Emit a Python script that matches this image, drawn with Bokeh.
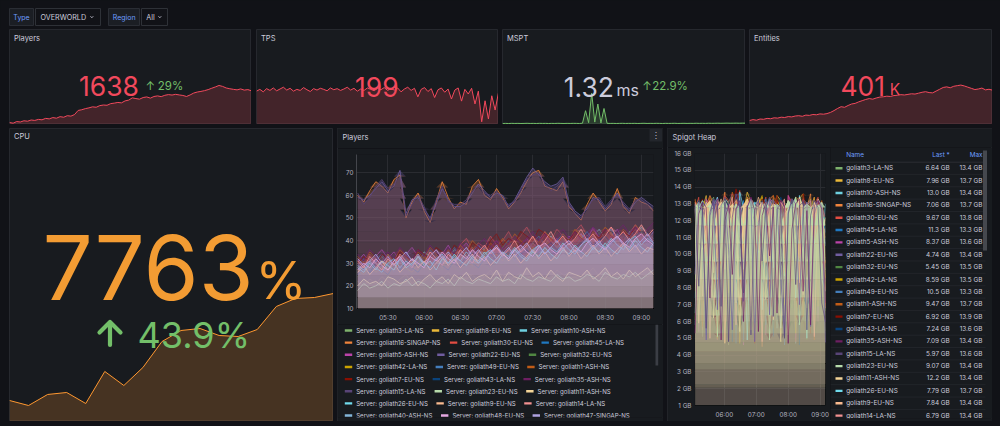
import numpy as np
import pandas as pd
from bokeh.plotting import figure
from bokeh.models import Range1d, FixedTicker, DatetimeTickFormatter, Spacer, GlobalInlineStyleSheet
from bokeh.layouts import row, column
from bokeh.core.properties import value
from bokeh.embed import file_html
from bokeh.resources import INLINE

# ---------------- data ----------------
var_type = "OVERWORLD"
var_region = "All"

stat_players = [1270,1262,1281,1276,1290,1285,1299,1294,1306,1301,1318,1312,1327,1320,1338,1331,1349,1344,
                1362,1410,1418,1431,1440,1452,1447,1466,1473,1470,1489,1495,1503,1498,1521,1530,1556,1548,
                1541,1560,1567,1553,1572,1579,1570,1586,1594,1589,1597,1590,1584,1572,1590,1612,1624,1631,
                1640,1652,1668,1683,1700,1689,1671,1662,1655,1649,1660,1646,1652,1638]
stat_tps = [19.88,19.93,19.86,19.95,19.90,19.97,19.89,19.94,19.99,19.91,19.96,19.88,19.93,19.90,19.98,19.92,
            19.87,19.95,19.91,19.96,19.93,19.89,19.97,19.92,19.95,19.90,19.94,19.99,19.91,19.96,19.88,19.94,
            19.90,19.97,19.93,19.89,19.96,19.92,19.98,19.90,19.95,19.91,19.97,19.86,19.94,19.99,19.90,19.96,
            19.72,19.93,19.98,19.87,19.95,19.70,19.92,19.97,19.85,19.94,19.66,19.91,19.97,19.60,19.93,19.80,
            19.96,19.52,19.88,19.02,19.61,19.10,19.75,19.35,19.84]
stat_mspt = [1.21,1.24,1.19,1.26,1.22,1.25,1.20,1.23,1.27,1.22,1.24,1.21,1.26,1.23,1.25,1.20,1.24,1.22,1.27,
             1.23,1.21,1.25,1.22,1.26,1.24,1.21,1.3,5.8,1.5,12.1,1.7,8.2,1.4,6.6,1.26,1.23,1.25,1.21,1.24,
             1.27,1.22,1.25,1.23,1.26,1.21,1.24,1.28,1.22,1.25,1.23,1.27,1.24,1.21,1.26,1.23,1.25,1.28,1.22,
             1.24,1.27,1.23,1.26,1.24,1.29,1.25,1.27,1.24,1.30,1.26,1.28,1.31,1.27,1.30,1.33,1.29,1.31,1.34,
             1.30,1.33,1.32]
stat_entities_k = [300,303,301,305,304,307,306,309,308,311,310,313,312,315,316,314,318,317,320,319,322,321,
                   323,327,333,340,346,344,350,355,357,362,366,370,373,371,375,378,379,381,380,383,384,386,
                   385,387,389,388,391,394,396,393,392,398,404,410,412,409,414,416,418,415,411,407,403,405,
                   408,402,404,401]
stat_cpu = [5395,5284,5528,5572,5328,6037,5727,6125,6700,6944,6988,6833,6811,6966,7475,7652,7674,7763]

stat_texts = {"players": ("1638", "29%"), "tps": ("199", None), "mspt": ("1.32", "22.9%"),
              "entities": ("401", None), "cpu": ("7763", "43.9%")}

palette = ["#7EB26D","#EAB839","#6ED0E0","#EF843C","#E24D42","#1F78C1","#BA43A9","#705DA0","#508642",
           "#CCA300","#447EBC","#C15C17","#890F02","#0A437C","#6D1F62","#584477","#B7DBAB","#F4D598",
           "#70DBED","#F9BA8F","#F29191","#82B5D8","#E5A8E2","#AEA2E0"]

players_names = ["goliath3-LA-NS","goliath8-EU-NS","goliath10-ASH-NS","goliath16-SINGAP-NS","goliath30-EU-NS",
                 "goliath45-LA-NS","goliath5-ASH-NS","goliath22-EU-NS","goliath32-EU-NS","goliath42-LA-NS",
                 "goliath49-EU-NS","goliath1-ASH-NS","goliath7-EU-NS","goliath43-LA-NS","goliath35-ASH-NS",
                 "goliath15-LA-NS","goliath23-EU-NS","goliath11-ASH-NS","goliath26-EU-NS","goliath9-EU-NS",
                 "goliath14-LA-NS","goliath40-ASH-NS","goliath48-EU-NS","goliath47-SINGAP-NS"]

players_series = [
 [28,31,27,30,33,29,31,28,32,30,34,31,29,33,31,35,32,30,34,37,33,36,34,38,35,33,37,36,39,37,35,38,40,37,39,41,38,36,40,42,39,37,41,38,40,43,39,41,38,40],
 [22,20,23,21,24,22,20,23,25,21,23,22,24,21,23,26,22,24,23,25,22,24,27,23,25,22,24,26,23,25,22,24,23,27,25,23,24,22,25,28,24,23,26,24,25,23,27,25,24,26],
 [30,27,32,29,31,34,30,33,29,32,30,35,33,31,34,32,36,34,31,35,33,37,35,32,36,38,34,37,35,39,36,38,42,39,41,37,40,43,39,42,45,41,38,43,40,44,42,46,43,41],
 [60,57,62,66,64,61,67,69,50,57,61,53,48,57,66,59,54,57,56,64,67,60,58,63,59,54,57,61,66,70,71,64,63,62,66,55,52,49,56,61,57,53,56,63,55,52,59,57,56,53],
 [32,29,34,31,28,33,30,32,35,31,33,30,34,36,32,35,33,38,41,36,39,37,42,38,40,44,39,42,46,41,38,43,40,45,42,39,44,47,42,45,41,43,46,40,44,42,45,41,43,40],
 [26,29,27,31,28,30,26,29,32,28,31,29,27,30,33,29,32,30,28,32,35,31,34,32,36,33,31,35,38,34,37,35,33,37,40,36,39,37,35,38,41,37,40,38,42,39,36,40,43,39],
 [31,34,30,33,36,32,35,31,34,37,33,30,35,32,34,38,33,36,39,35,38,34,37,40,36,39,35,38,41,37,40,44,38,41,37,42,39,43,40,46,41,38,42,45,40,43,47,42,39,44],
 [59,58,60,63,66,62,64,71,52,58,59,54,50,56,63,58,55,55,57,61,65,62,59,61,60,55,58,63,68,72,69,66,64,65,68,57,53,51,54,59,58,54,57,61,56,53,57,59,57,55],
 [24,27,25,28,26,24,29,26,28,25,27,30,26,29,27,31,28,26,30,28,32,29,27,31,29,33,30,28,32,35,31,33,30,34,32,36,33,31,35,33,37,34,32,36,34,38,35,33,37,35],
 [27,25,29,26,28,31,27,30,28,26,30,33,29,31,28,32,30,34,31,29,33,36,32,34,31,35,33,30,34,37,33,36,34,32,36,39,35,37,34,38,36,33,37,40,36,38,35,39,37,34],
 [29,32,28,31,34,30,27,32,35,31,29,33,36,32,30,34,37,33,31,35,38,34,36,33,37,40,35,38,36,39,42,38,36,40,43,39,37,41,44,40,38,42,45,41,39,43,46,42,40,44],
 [33,30,35,32,29,34,31,36,33,30,35,32,37,34,31,36,33,38,35,40,37,34,39,36,41,38,43,40,37,42,39,44,41,38,43,40,45,42,39,44,41,46,43,40,45,42,47,44,41,43],
 [30,33,31,29,34,32,30,35,33,31,36,34,32,37,35,33,38,36,34,39,37,35,40,43,38,41,39,44,42,40,45,43,41,38,42,40,44,41,39,43,41,45,42,40,44,42,46,43,41,39],
 [25,28,26,30,27,25,29,27,31,28,26,30,28,32,29,27,31,29,33,30,28,32,34,31,33,35,32,34,36,33,35,37,39,36,38,40,37,39,41,38,40,42,39,41,43,40,42,44,41,43],
 [34,31,36,33,30,35,32,37,34,31,36,33,38,35,32,37,34,39,36,33,38,41,37,40,36,39,42,38,41,44,40,43,39,42,45,41,44,40,43,46,42,45,41,44,47,43,46,42,45,48],
 [61,56,59,64,67,63,65,68,51,56,60,55,49,58,64,57,56,56,58,62,64,61,60,62,58,56,57,62,67,69,70,65,62,64,67,56,52,50,55,58,59,55,58,60,57,54,58,58,56,54],
 [18,21,19,20,22,19,21,20,23,20,22,21,19,22,21,23,20,24,22,21,23,22,21,24,22,23,21,25,23,22,24,23,22,25,23,24,22,23,25,24,22,26,24,23,25,24,26,23,25,27],
 [20,23,21,22,20,24,23,21,22,24,20,23,25,22,24,21,25,23,26,22,24,25,23,27,22,26,24,23,28,24,26,23,27,24,22,26,25,24,27,23,25,28,24,26,23,27,24,26,28,25],
 [28,26,30,27,31,29,27,32,28,30,33,29,31,27,32,30,34,31,29,33,31,35,32,30,34,32,36,33,31,35,33,37,34,32,36,34,38,35,33,37,35,39,36,34,38,36,40,37,35,39],
 [26,29,25,28,31,27,30,26,29,32,28,31,27,30,33,29,32,28,31,34,30,33,29,32,35,31,34,30,33,36,32,35,31,34,37,33,36,32,35,38,34,37,33,36,39,35,38,34,37,36],
 [31,28,33,30,27,32,29,34,31,28,33,30,35,32,29,34,31,36,33,30,35,38,34,37,33,36,40,35,38,42,37,40,44,39,42,38,41,45,40,43,39,42,46,41,44,40,43,47,42,45],
 [29,27,31,28,26,30,32,28,31,29,33,30,28,32,34,30,33,31,35,32,30,34,36,32,35,33,37,34,32,36,38,34,37,35,39,36,34,38,40,36,39,37,41,38,36,40,42,38,41,39],
 [27,30,28,32,29,27,31,33,29,32,30,28,33,31,35,32,30,34,32,36,33,31,35,37,34,32,36,38,35,33,37,39,36,34,38,40,37,35,39,41,38,36,40,42,39,37,41,43,40,38],
 [32,29,31,34,30,33,29,32,35,31,34,30,33,36,32,35,31,34,37,33,36,32,35,38,34,37,33,36,39,35,38,34,37,40,36,39,35,38,41,37,40,36,39,42,38,41,37,40,43,39],
]

heap_names = players_names[:21]
heap_series = [
 [12.9,13.2,5.1,9.8,13.1,13.4,7.2,12.8,13.3,4.6,11.9,13.2,13.0,6.3,12.7,13.3,8.9,13.1,5.4,12.6,13.3,13.1,7.7,12.9,13.2,4.9,10.8,13.2,12.8,6.1,13.0,13.3,9.2,12.7,13.1,6.64],
 [13.1,6.4,12.7,13.5,8.1,13.2,12.9,5.3,13.4,13.0,9.6,13.3,4.8,12.5,13.7,13.1,6.9,13.0,13.4,10.2,5.7,12.8,13.5,13.2,7.4,13.1,12.7,5.9,13.3,13.6,8.8,12.9,13.2,6.2,12.8,7.96],
 [5.8,12.6,13.2,7.9,13.0,12.8,4.9,11.7,13.3,13.1,6.6,12.9,13.4,9.1,12.7,5.2,13.0,13.2,7.0,12.8,13.3,11.4,5.6,13.1,12.9,8.3,13.2,4.7,12.6,13.3,13.0,6.8,12.9,13.1,9.9,13.0],
 [13.3,9.4,5.5,12.9,13.5,13.0,7.8,12.6,13.7,5.0,10.7,13.2,12.8,6.1,13.4,13.1,8.6,12.7,4.5,12.4,13.3,13.5,7.1,12.9,13.0,5.4,11.8,13.4,13.2,6.7,12.8,13.6,9.3,12.5,13.1,7.06],
 [12.7,13.4,6.2,12.9,13.1,8.5,4.9,12.8,13.5,13.2,7.3,12.6,13.8,5.6,12.1,13.3,13.0,6.9,12.8,13.4,9.7,5.1,13.2,12.9,7.6,13.5,13.1,4.8,11.5,13.3,12.7,6.4,13.0,13.4,8.2,9.67],
 [7.4,12.8,13.1,5.9,12.5,13.3,10.1,12.9,6.8,13.0,12.7,4.7,12.2,13.2,8.4,12.9,13.1,6.0,12.6,13.3,11.0,5.3,12.8,13.0,7.9,12.7,13.2,5.6,12.4,13.1,9.5,12.9,13.3,6.5,12.6,11.3],
 [13.0,5.4,11.6,13.3,12.9,7.1,13.4,12.7,5.8,13.1,13.6,8.9,12.5,4.6,12.8,13.2,7.5,13.0,12.6,5.2,13.3,13.1,9.8,12.7,6.3,13.5,12.9,5.0,12.3,13.2,7.8,12.8,13.4,6.0,12.9,8.37],
 [8.8,13.1,12.6,4.9,12.3,13.2,6.7,12.9,13.4,10.3,5.5,12.7,13.0,7.2,12.8,13.3,4.8,11.9,13.1,12.6,6.4,13.2,12.9,8.7,5.1,12.5,13.3,13.0,7.0,12.8,13.1,5.7,12.4,13.2,12.9,4.74],
 [12.5,13.0,7.6,12.8,5.2,12.1,13.3,12.9,6.5,13.1,13.5,9.0,12.6,4.8,12.9,13.2,7.9,12.7,13.0,5.9,12.4,13.3,10.6,5.3,12.8,13.1,6.8,13.4,12.6,8.1,4.9,12.9,13.2,12.7,7.3,5.45],
 [6.1,12.7,13.2,13.0,8.3,12.6,5.0,12.9,13.4,7.7,12.8,13.1,4.7,11.4,13.3,12.9,6.2,13.0,13.5,9.4,12.6,5.6,12.9,13.2,7.0,12.7,13.3,5.3,12.2,13.1,8.6,12.8,13.4,6.9,12.5,8.59],
 [12.8,7.0,12.4,13.1,5.5,12.7,13.3,9.2,12.9,6.1,12.5,13.0,12.8,4.9,12.2,13.2,8.0,12.6,13.1,5.8,12.9,13.3,7.4,12.7,4.6,11.8,13.0,12.8,6.6,13.2,12.5,9.7,5.2,12.9,13.1,10.5],
 [13.2,12.7,5.7,12.5,13.4,7.9,12.8,13.1,4.8,12.0,13.7,13.0,6.6,12.9,13.3,9.1,5.4,12.6,13.2,12.8,7.2,13.5,12.9,5.1,12.3,13.1,8.4,12.7,13.4,6.3,12.8,13.0,4.9,11.6,13.2,9.47],
 [7.8,12.9,13.3,5.6,12.6,13.1,12.8,8.7,13.4,5.0,12.4,13.9,12.7,6.9,13.2,12.9,4.7,11.9,13.3,13.0,7.5,12.8,13.5,5.9,12.5,13.2,9.3,12.9,6.4,13.6,12.7,5.3,12.2,13.1,12.8,6.92],
 [12.6,13.2,9.5,5.2,12.8,13.0,6.8,12.5,13.3,12.9,4.8,12.1,13.6,7.6,12.7,13.1,5.9,12.9,13.2,8.5,12.6,5.1,12.3,13.4,12.8,6.7,13.0,13.3,4.6,11.7,12.9,13.2,7.9,12.6,13.0,7.24],
 [5.3,12.4,13.1,12.8,7.4,12.9,13.3,4.9,12.0,13.0,8.8,12.7,13.2,6.0,12.8,13.4,12.6,5.4,12.3,13.1,9.9,12.8,6.5,13.2,12.9,4.7,11.5,13.0,13.3,7.8,12.6,5.8,12.9,13.2,12.7,7.09],
 [13.0,8.1,12.7,5.6,12.5,13.3,12.9,6.9,13.1,4.8,12.2,13.6,12.8,7.7,12.9,5.2,12.6,13.2,9.6,12.8,13.4,6.3,12.7,13.0,5.0,12.4,13.3,8.2,12.9,13.1,5.5,12.3,13.2,12.8,7.1,5.97],
 [12.8,13.1,12.6,9.4,13.0,12.7,5.1,12.9,13.2,12.5,11.2,13.0,12.8,6.4,12.6,13.3,12.9,10.1,12.7,13.1,4.9,12.8,13.0,12.6,8.7,13.2,12.9,13.4,5.8,12.7,13.0,12.8,10.6,12.9,13.1,9.07],
 [13.0,12.7,10.3,12.9,13.2,6.2,12.6,13.1,12.8,9.8,13.0,12.5,5.4,12.9,13.3,12.7,11.6,12.8,13.1,7.3,12.6,13.0,12.9,4.8,12.4,13.2,12.7,10.9,13.4,12.8,6.8,12.6,13.1,12.9,11.1,12.2],
 [6.5,12.8,13.2,12.6,8.0,12.9,13.4,5.3,12.3,13.0,12.7,7.1,13.7,12.8,4.9,11.8,13.1,12.9,6.7,12.5,13.3,9.2,12.8,5.6,12.6,13.2,12.9,7.4,13.5,12.7,5.0,12.1,13.0,12.8,8.5,7.79],
 [12.7,5.9,12.4,13.1,12.8,8.9,12.6,13.3,4.7,12.0,12.9,13.2,7.0,12.7,13.0,5.5,12.5,13.4,12.8,9.5,12.9,6.1,12.6,13.1,12.7,5.2,12.2,13.2,8.3,12.8,13.0,6.6,12.5,13.3,12.9,7.84],
 [13.1,12.6,7.5,12.9,5.0,12.3,13.2,12.8,9.1,12.7,13.4,5.8,12.5,13.0,12.9,6.9,12.6,13.1,4.8,11.9,13.2,12.8,8.0,12.9,13.3,5.4,12.4,13.0,12.7,7.6,12.9,13.2,5.1,12.6,13.0,6.79],
]
heap_pale = [17, 16]      # pale series whose heavy fill dominates the heap panel (drawn late)
heap_dark_top = [7, 14, 15]  # dark purple series whose lines stay visible on top

DAY = "2024-05-01"
players_times = pd.date_range(f"{DAY} 05:05", periods=50, freq="5min")
heap_times = pd.date_range(f"{DAY} 05:05", periods=36, freq="7min")
time_start, time_end = f"{DAY} 05:04", f"{DAY} 09:10"
players_xticks = ["05:30", "06:00", "06:30", "07:00", "07:30", "08:00", "08:30", "09:00"]
players_yticks = [10, 20, 30, 40, 50, 60, 70]
heap_xticks = ["06:00", "07:00", "08:00", "09:00"]
heap_yticks = list(range(1, 17))

# ---------------- style ----------------
FONT = "Inter"
BG = "#111217"; PANEL = "#181b1f"; BORDER = "#26282e"; TEXT = "#ccccdc"; TICK = "#b5b5c0"; GRID = "#2a2c31"
RED = "#f2495c"; GREEN = "#73bf69"; ORANGE = "#ff9830"; CPU_TXT = "#f39c33"; BLUE = "#6e9fff"
PLEG_FS = 6.1
HLEG_FS = 6.4
COMMON = dict(output_backend="svg", toolbar_location=None, frame_align=False)

def ms(t):
    return (pd.Timestamp(t) - pd.Timestamp("1970-01-01")) // pd.Timedelta("1ms")

T0 = pd.Timestamp(time_start).to_pydatetime()
T1 = pd.Timestamp(time_end).to_pydatetime()

CW = {"a": .55, "b": .59, "c": .55, "d": .59, "e": .56, "g": .59, "h": .57, "i": .24, "j": .24, "k": .52,
      "l": .24, "n": .57, "o": .57, "p": .59, "r": .36, "s": .52, "t": .35, "u": .57, "v": .53, "w": .77,
      "x": .52, "y": .53, "z": .51, "A": .69, "E": .6, "G": .73, "H": .75, "I": .27, "L": .51, "N": .75,
      "P": .63, "S": .64, "U": .73, ":": .26, " ": .28, "-": .42, "1": .45}

def tw(s, fs):
    return sum(CW.get(c, 0.62) for c in s) * fs

def ptext(p, x, y, s, size, color=TEXT, align="left", baseline="middle", rng=None, font=FONT):
    kw = dict(x_range_name=rng, y_range_name=rng) if rng else {}
    p.text(x=[x], y=[y], text=[s], text_font=value(font), text_font_size=value(f"{size}px"),
           text_color=color, text_align=align, text_baseline=baseline, **kw)

def pix_fig(w, h, bg=PANEL, mb=0):
    p = figure(width=w, height=h, x_range=Range1d(0, w), y_range=Range1d(h - mb, 0),
               x_axis_type=None, y_axis_type=None, min_border=0, min_border_left=0, min_border_right=0,
               min_border_top=0, min_border_bottom=mb, **COMMON)
    p.background_fill_color = bg; p.border_fill_color = bg; p.outline_line_color = None
    return p

def stat_fig(w, h, vals, lo, hi, color):
    n = len(vals)
    p = figure(width=w, height=h, x_range=Range1d(0, n - 1), y_range=Range1d(lo, hi),
               x_axis_type=None, y_axis_type=None, min_border=0, **COMMON)
    p.background_fill_color = PANEL; p.border_fill_color = PANEL; p.outline_line_color = BORDER
    p.extra_x_ranges = {"px": Range1d(0, w)}
    p.extra_y_ranges = {"px": Range1d(h, 0)}
    x = list(range(n))
    p.varea(x=x, y1=lo, y2=vals, fill_color=color, fill_alpha=0.2)
    p.line(x, vals, line_color=color, line_width=1)
    return p

def grad_fill(p, x, y, color, lo, hi, n, a_bot, a_top, gamma=1.0):
    y = np.asarray(y, float)
    edges = np.linspace(lo, hi, n + 1)
    for i in range(n):
        a, b = edges[i], edges[i + 1]
        if y.max() <= a:
            break
        f = (i + 0.5) / n
        p.varea(x=x, y1=np.full(len(y), a), y2=np.clip(y, a, b), fill_color=color,
                fill_alpha=min(1.0, a_bot + (a_top - a_bot) * f ** gamma))

def style_chart(p, xticks, yticks):
    for ax in p.axis:
        ax.major_label_text_font = FONT
        ax.major_label_text_font_size = "6.3px"
        ax.major_label_text_color = TICK
        ax.major_tick_line_color = None
        ax.minor_tick_line_color = None
        ax.major_tick_in = 0; ax.major_tick_out = 0
        ax.minor_tick_in = 0; ax.minor_tick_out = 0
        ax.axis_line_color = None
    xt = FixedTicker(ticks=[ms(f"{DAY} {t}") for t in xticks])
    p.xaxis.ticker = xt
    p.xgrid.ticker = xt
    p.xaxis.formatter = DatetimeTickFormatter(minutes="%H:%M", hourmin="%H:%M", hours="%H:%M",
                                              minsec="%H:%M", days="%H:%M")
    yt = FixedTicker(ticks=yticks)
    p.yaxis.ticker = yt
    p.ygrid.ticker = yt
    p.xaxis.major_label_standoff = 5
    p.yaxis.major_label_standoff = 3
    p.grid.grid_line_color = GRID
    p.grid.grid_line_width = 1
    p.background_fill_color = PANEL; p.border_fill_color = PANEL; p.outline_line_color = None

# ---------------- top bar ----------------
tb = pix_fig(1000, 28, bg=BG)
tb.quad(left=[9, 108], right=[33, 139], top=[8, 8], bottom=[25, 25], fill_color="#1b1e24", line_color="#2a2d34")
tb.quad(left=[35, 141], right=[100, 167], top=[8, 8], bottom=[25, 25], fill_color=BG, line_color="#2e3137")
ptext(tb, 21, 16.5, "Type", 7, BLUE, align="center")
ptext(tb, 123.7, 16.5, "Region", 7, BLUE, align="center")
ptext(tb, 40, 16.6, var_type, 7.2)
ptext(tb, 145.7, 16.6, var_region, 7.2)
tb.multi_line(xs=[[90, 91.35, 92.7], [158, 159.35, 160.7]], ys=[[15.8, 17.2, 15.8], [15.8, 17.2, 15.8]],
              line_color=TEXT, line_width=0.9)

# ---------------- stat row ----------------
s1 = stat_fig(242, 95, stat_players, 1246.8, 2350, RED)
ptext(s1, 4.5, 9, "Players", 7.5, rng="px")
ptext(s1, 69.5, 56.5, stat_texts["players"][0], 26.5, RED, rng="px")
ptext(s1, 136, 56.3, "↑", 11.5, GREEN, rng="px")
ptext(s1, 148.3, 56.3, stat_texts["players"][1], 11.5, GREEN, rng="px")

s2 = stat_fig(242, 95, stat_tps, 18.944, 21.61, RED)
ptext(s2, 4.5, 9, "TPS", 7.5, rng="px")
ptext(s2, 120.3, 57.8, stat_texts["tps"][0], 26.5, RED, align="center", rng="px")

s3 = stat_fig(243, 95, stat_mspt, 0.84, 35.0, GREEN)
ptext(s3, 4.5, 9, "MSPT", 7.5, rng="px")
ptext(s3, 61.3, 57.5, stat_texts["mspt"][0], 26.5, TEXT, rng="px")
ptext(s3, 114, 60.0, "ms", 16, TEXT, rng="px")
ptext(s3, 139.7, 56.3, "↑", 11.5, GREEN, rng="px")
ptext(s3, 149.7, 56.3, stat_texts["mspt"][1], 11.5, GREEN, rng="px")

s4 = stat_fig(243, 95, stat_entities_k, 286.7, 603, RED)
ptext(s4, 4.5, 9, "Entities", 7.5, rng="px")
ptext(s4, 91, 56.5, stat_texts["entities"][0], 26.5, RED, rng="px")
ptext(s4, 140.3, 60.2, "K", 15.5, RED, rng="px")

# ---------------- CPU ----------------
cpu = stat_fig(324, 293, stat_cpu, 4930, 11414, ORANGE)
ptext(cpu, 4.5, 8.3, "CPU", 7.5, rng="px")
ptext(cpu, 33, 139.3, stat_texts["cpu"][0], 89, CPU_TXT, rng="px")
ptext(cpu, 246, 151.5, "%", 52, CPU_TXT, rng="px")
cpu.multi_line(xs=[[100.5, 100.5], [90, 100.5, 111]], ys=[[194.5, 216.5], [204, 193.5, 204]],
               line_color=GREEN, line_width=4.2, line_cap="round", line_join="round",
               x_range_name="px", y_range_name="px")
ptext(cpu, 128, 206.3, stat_texts["cpu"][1], 36, GREEN, rng="px")

# ---------------- Players timeseries ----------------
pt = pix_fig(326, 20)
ptext(pt, 5, 9, "Players", 7.5)
pt.quad(left=[312], right=[324.7], top=[0.5], bottom=[13], fill_color="#23262c", line_color=None)
ptext(pt, 318.3, 7, "⋮", 8, TEXT, align="center", font="DejaVu Sans")

pc = figure(width=326, height=176, x_axis_type="datetime", x_range=Range1d(T0, T1), y_range=Range1d(10, 78),
            min_border_left=19, min_border_right=10, min_border_top=6, min_border_bottom=13, **COMMON)
style_chart(pc, players_xticks, players_yticks)
pc.yaxis.axis_line_color = "#44464c"
for k, vals in enumerate(players_series):
    n = min(len(vals), len(players_times))
    x = players_times[:n]
    y = vals[:n]
    grad_fill(pc, x, y, palette[k], 10, 78, 14, 0.0, 0.3, 0.45)
    pc.line(x, y, line_color=palette[k], line_width=0.8)

pl = pix_fig(326, 97, mb=4)
sw_l, sw_y, sw_c, tx, ty, tt = [], [], [], [], [], []
for r0 in range(0, len(players_names), 3):
    xx = 7.3
    yy = 6 + (r0 // 3) * 12.15
    for k in range(r0, min(r0 + 3, len(players_names))):
        nm = "Server: " + players_names[k]
        sw_l.append(xx); sw_y.append(yy); sw_c.append(palette[k])
        tx.append(xx + 11.4); ty.append(yy); tt.append(nm)
        xx = xx + 11.4 + tw(nm, PLEG_FS) + 10.3
pl.quad(left=sw_l, right=[v + 7.4 for v in sw_l], top=[v - 1.2 for v in sw_y], bottom=[v + 1.2 for v in sw_y],
        fill_color=sw_c, line_color=None)
pl.text(x=tx, y=ty, text=tt, text_font=value(FONT), text_font_size=value(f"{PLEG_FS}px"), text_color=TEXT,
        text_baseline="middle", text_align="left")
pl.quad(left=[318], right=[320.7], top=[0], bottom=[41], fill_color="#3b3e45", line_color=None)

players_panel = column(pt, pc, pl, spacing=0,
                       styles={"outline": f"1px solid {BORDER}", "outline-offset": "-1px"})

# ---------------- Spigot Heap ----------------
ht = pix_fig(325, 19)
ptext(ht, 5, 9, "Spigot Heap", 7.5)

hc = figure(width=163, height=274, x_axis_type="datetime", x_range=Range1d(T0, T1), y_range=Range1d(1, 16),
            min_border_left=27, min_border_right=5, min_border_top=6, min_border_bottom=16, **COMMON)
style_chart(hc, heap_xticks, heap_yticks)
hc.yaxis.major_label_overrides = {v: f"{v} GB" for v in heap_yticks}
order = [k for k in range(len(heap_series)) if k not in heap_pale] + heap_pale
for k in order:
    vals = heap_series[k]
    n = min(len(vals), len(heap_times))
    x = heap_times[:n]
    y = vals[:n]
    if k in heap_pale:
        grad_fill(hc, x, y, palette[k], 1, 16, 14, 0.03, 1.0, 1.0)
    else:
        grad_fill(hc, x, y, palette[k], 1, 16, 12, 0.02, 0.22)
    hc.line(x, y, line_color=palette[k], line_width=0.7)
for k in heap_dark_top:
    vals = heap_series[k]
    n = min(len(vals), len(heap_times))
    hc.line(heap_times[:n], vals[:n], line_color=palette[k], line_width=0.7, line_alpha=0.9)

def gb(v):
    return f"{v:.2f} GB" if v < 10 else f"{v:.1f} GB"

hl = pix_fig(162, 274, mb=3)
ptext(hl, 15.7, 7.7, "Name", HLEG_FS, BLUE)
ptext(hl, 119.3, 7.7, "Last *", HLEG_FS, BLUE, align="right")
ptext(hl, 152, 7.7, "Max", HLEG_FS, BLUE, align="right")
hl.segment(x0=[0], x1=[155], y0=[14.7], y1=[14.7], line_color="#2c2e34", line_width=1)
rows_y = [20.7 + i * 12.37 for i in range(len(heap_names))]
hl.segment(x0=[0] * len(rows_y), x1=[155] * len(rows_y), y0=[y + 6.18 for y in rows_y],
           y1=[y + 6.18 for y in rows_y], line_color="#22252a", line_width=1)
hl.quad(left=[5] * len(rows_y), right=[12] * len(rows_y), top=[y - 1.2 for y in rows_y],
        bottom=[y + 1.2 for y in rows_y], fill_color=palette[:len(rows_y)], line_color=None)
hl.text(x=[15.7] * len(rows_y), y=rows_y, text=heap_names, text_font=value(FONT),
        text_font_size=value(f"{HLEG_FS}px"), text_color=TEXT, text_baseline="middle")
hl.text(x=[119.3] * len(rows_y), y=rows_y, text=[gb(v[-1]) for v in heap_series], text_font=value(FONT),
        text_font_size=value(f"{HLEG_FS}px"), text_color=TEXT, text_baseline="middle", text_align="right")
hl.text(x=[152] * len(rows_y), y=rows_y, text=[gb(max(v)) for v in heap_series], text_font=value(FONT),
        text_font_size=value(f"{HLEG_FS}px"), text_color=TEXT, text_baseline="middle", text_align="right")
hl.quad(left=[152.5], right=[156.5], top=[3], bottom=[103], fill_color="#45484e", line_color=None)

heap_panel = column(ht, row(hc, hl, spacing=0), spacing=0,
                    styles={"outline": f"1px solid {BORDER}", "outline-offset": "-1px"})

# ---------------- layout ----------------
row1 = row(Spacer(width=9, height=95), s1, Spacer(width=5, height=95), s2, Spacer(width=4, height=95), s3,
           Spacer(width=4, height=95), s4, spacing=0)
row2 = row(Spacer(width=9, height=293), cpu, Spacer(width=4, height=293), players_panel,
           Spacer(width=4, height=293), heap_panel, spacing=0)
root = column(tb, Spacer(width=1000, height=1), row1, Spacer(width=1000, height=4), row2, spacing=0,
              width=1000, height=426, styles={"background-color": BG},
              stylesheets=[GlobalInlineStyleSheet(css="html,body{margin:0;padding:0;background:#111217;overflow:hidden;}")])

open("out.html", "w").write(file_html(root, INLINE))
